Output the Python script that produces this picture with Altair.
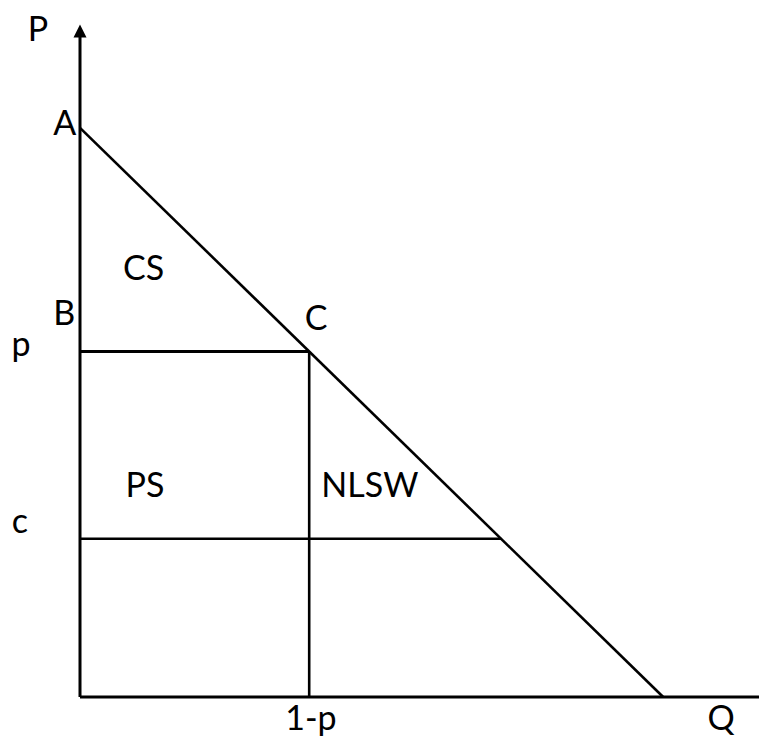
import altair as alt
import pandas as pd

# Economic values (price P on vertical axis, quantity Q on horizontal axis)
choke_price = 1.0        # A: demand intercept on the P axis
max_quantity = 1.0       # demand intercept on the Q axis
price_p = 0.607          # p
cost_c = 0.278           # c
axis_top = 1.165         # end of the P axis line
axis_right = 1.175       # end of the Q axis line

label_text = ["P", "A", "CS", "B", "C", "p", "PS", "NLSW", "c", "1-p", "Q"]
label_q = [-0.072, -0.026, 0.109, -0.027, 0.405, -0.101, 0.1115, 0.497, -0.103, 0.396, 1.0995]
label_p = [1.1526, 0.988, 0.733, 0.654, 0.645, 0.599, 0.3515, 0.3515, 0.288, -0.058, -0.058]

qd = 1 - price_p  # quantity at price p

xs = alt.Scale(domain=[0, 679 / 583.2], nice=False, zero=False)
ys = alt.Scale(domain=[0, 1.2], nice=False, zero=False)

# horizontal / vertical segments
segs = pd.DataFrame({
    "x": [0, 0, qd, 0, 0],
    "x2": [axis_right, 0, qd, qd, 1 - cost_c],
    "y": [0, 0, 0, price_p, cost_c],
    "y2": [0, axis_top, price_p, price_p, cost_c],
    "w": [3, 3, 2.6, 3, 2.5],
})

rules = alt.Chart(segs).mark_rule(color="black", strokeCap="butt").encode(
    x=alt.X("x:Q", scale=xs, axis=None),
    x2="x2:Q",
    y=alt.Y("y:Q", scale=ys, axis=None),
    y2="y2:Q",
    strokeWidth=alt.StrokeWidth("w:Q", scale=None, legend=None),
)

demand = pd.DataFrame({"q": [0, max_quantity], "p": [choke_price, 0]})
demand_line = alt.Chart(demand).mark_line(color="black", strokeWidth=2.6).encode(
    x=alt.X("q:Q", scale=xs, axis=None),
    y=alt.Y("p:Q", scale=ys, axis=None),
)

arrow_up = alt.Chart(pd.DataFrame({"q": [0], "p": [1.17]})).mark_point(
    shape="M0,-1L1,1L-1,1Z", size=169, filled=True, color="black", opacity=1
).encode(x=alt.X("q:Q", scale=xs, axis=None), y=alt.Y("p:Q", scale=ys, axis=None))

arrow_right = alt.Chart(pd.DataFrame({"q": [1.1827], "p": [0]})).mark_point(
    shape="M1,0L-1,-1L-1,1Z", size=169, filled=True, color="black", opacity=1
).encode(x=alt.X("q:Q", scale=xs, axis=None), y=alt.Y("p:Q", scale=ys, axis=None))

labels = pd.DataFrame({"t": label_text, "q": label_q, "p": label_p})
text = alt.Chart(labels).mark_text(
    font="Lato", fontSize=34, color="black", align="center", baseline="alphabetic"
).encode(
    x=alt.X("q:Q", scale=xs, axis=None),
    y=alt.Y("p:Q", scale=ys, axis=None),
    text="t:N",
)

chart = alt.layer(rules, demand_line, arrow_up, arrow_right, text).properties(
    width=679,
    height=683,
    autosize=alt.AutoSizeParams(type="none"),
    padding={"left": 72, "top": 6, "right": 0, "bottom": 40},
    background="white",
).configure_view(stroke=None)

chart.save("out.html", embed_options={"renderer": "svg", "actions": False})
